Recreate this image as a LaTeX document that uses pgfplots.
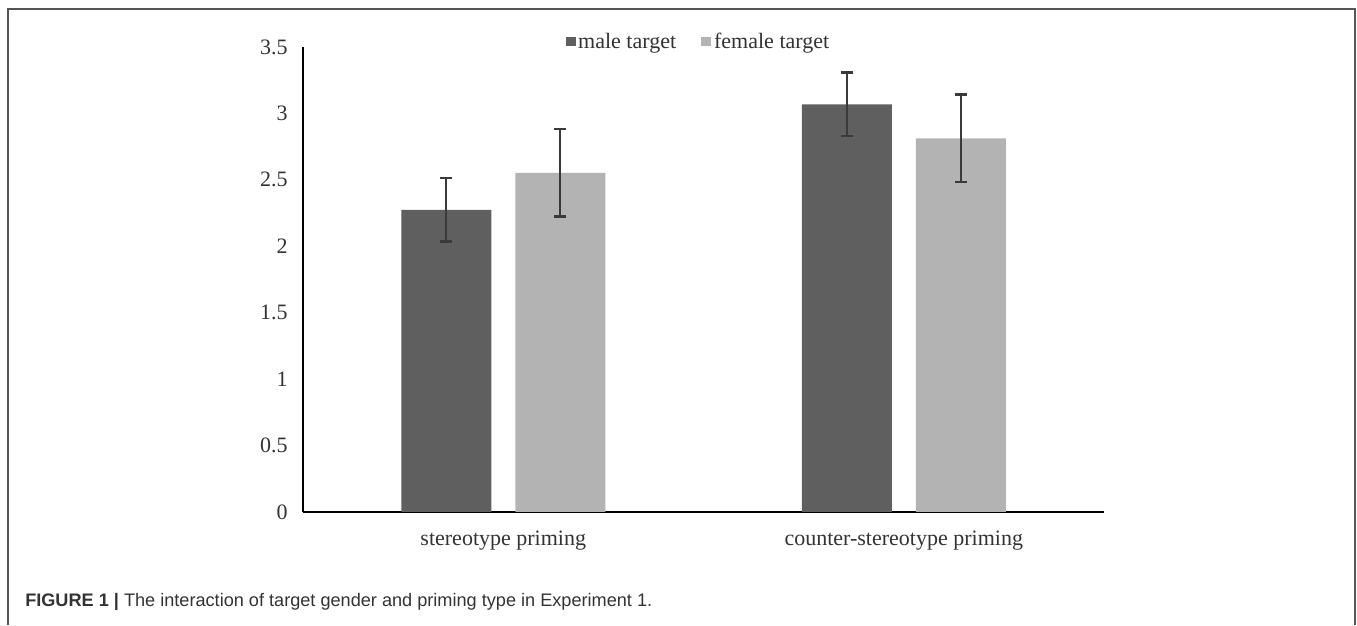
\documentclass[border=0pt]{standalone}
\usepackage{fontspec}
\setmainfont{Liberation Serif}
\newfontfamily\capfont{Liberation Sans}
\usepackage{pgfplots}
\pgfplotsset{compat=1.18}
\definecolor{darkbar}{HTML}{5F5F5F}
\definecolor{lightbar}{HTML}{B3B3B3}
\definecolor{errc}{HTML}{3A3A3A}
\definecolor{txt}{HTML}{333333}
\definecolor{frame}{HTML}{555555}
\begin{document}
\begin{tikzpicture}[x=1pt,y=1pt]
\begin{axis}[
  at={(227.25pt,84.75pt)}, anchor=south west,
  scale only axis, width=600.75pt, height=348.75pt,
  xmin=0, xmax=2, ymin=0, ymax=3.5,
  axis x line*=bottom, axis y line*=left,
  x axis line style={line width=1.9pt, -},
  y axis line style={line width=1.1pt, -},
  xtick={0.5,1.5}, xticklabels={stereotype priming, counter-stereotype priming},
  ytick={0,0.5,...,3.5},
  yticklabels={0,0.5,1,1.5,2,2.5,3,3.5},
  major tick length=0pt,
  tick label style={font=\fontsize{16.5}{18}\selectfont, text=txt},
  yticklabel style={xshift=-8pt},
  xticklabel style={yshift=-11pt},
  /pgf/number format/assume math mode=true,
  ybar, bar width=67.5pt,
  legend columns=2,
  legend style={draw=none, fill=none, at={(0.494,1.012)}, anchor=center,
    font=\fontsize{16.5}{18}\selectfont, text=txt,
    /tikz/every even column/.append style={column sep=17pt}},
  legend image code/.code={\fill[#1] (1pt,-3.6pt) rectangle (8.5pt,3.6pt);},
  error bars/y dir=both, error bars/y explicit,
  error bars/error bar style={line width=1.3pt, color=errc},
  error bars/error mark options={rotate=90, mark size=4.5pt, line width=1.8pt, color=errc},
]
\addplot[fill=darkbar, draw=none, bar shift=-42.75pt] coordinates {
  (0.5,2.275) +- (0,0.24)
  (1.5,3.068) +- (0,0.24)
};
\addplot[fill=lightbar, draw=none, bar shift=42.75pt] coordinates {
  (0.5,2.553) +- (0,0.33)
  (1.5,2.813) +- (0,0.33)
};
\legend{male target, female target}
\end{axis}
\draw[frame, line width=1.5pt] (6pt,0pt) -- (6pt,462.25pt) -- (1016.25pt,462.25pt) -- (1016.25pt,0pt);
\node[anchor=base west, inner sep=0pt, font=\capfont\fontsize{13.6}{15}\selectfont, text=txt] at (18.75pt,14pt) {\textbf{FIGURE 1 |} The interaction of target gender and priming type in Experiment 1.};
\pgfresetboundingbox
\path[use as bounding box] (0,0) rectangle (1017.75pt,468.75pt);
\end{tikzpicture}
\end{document}
